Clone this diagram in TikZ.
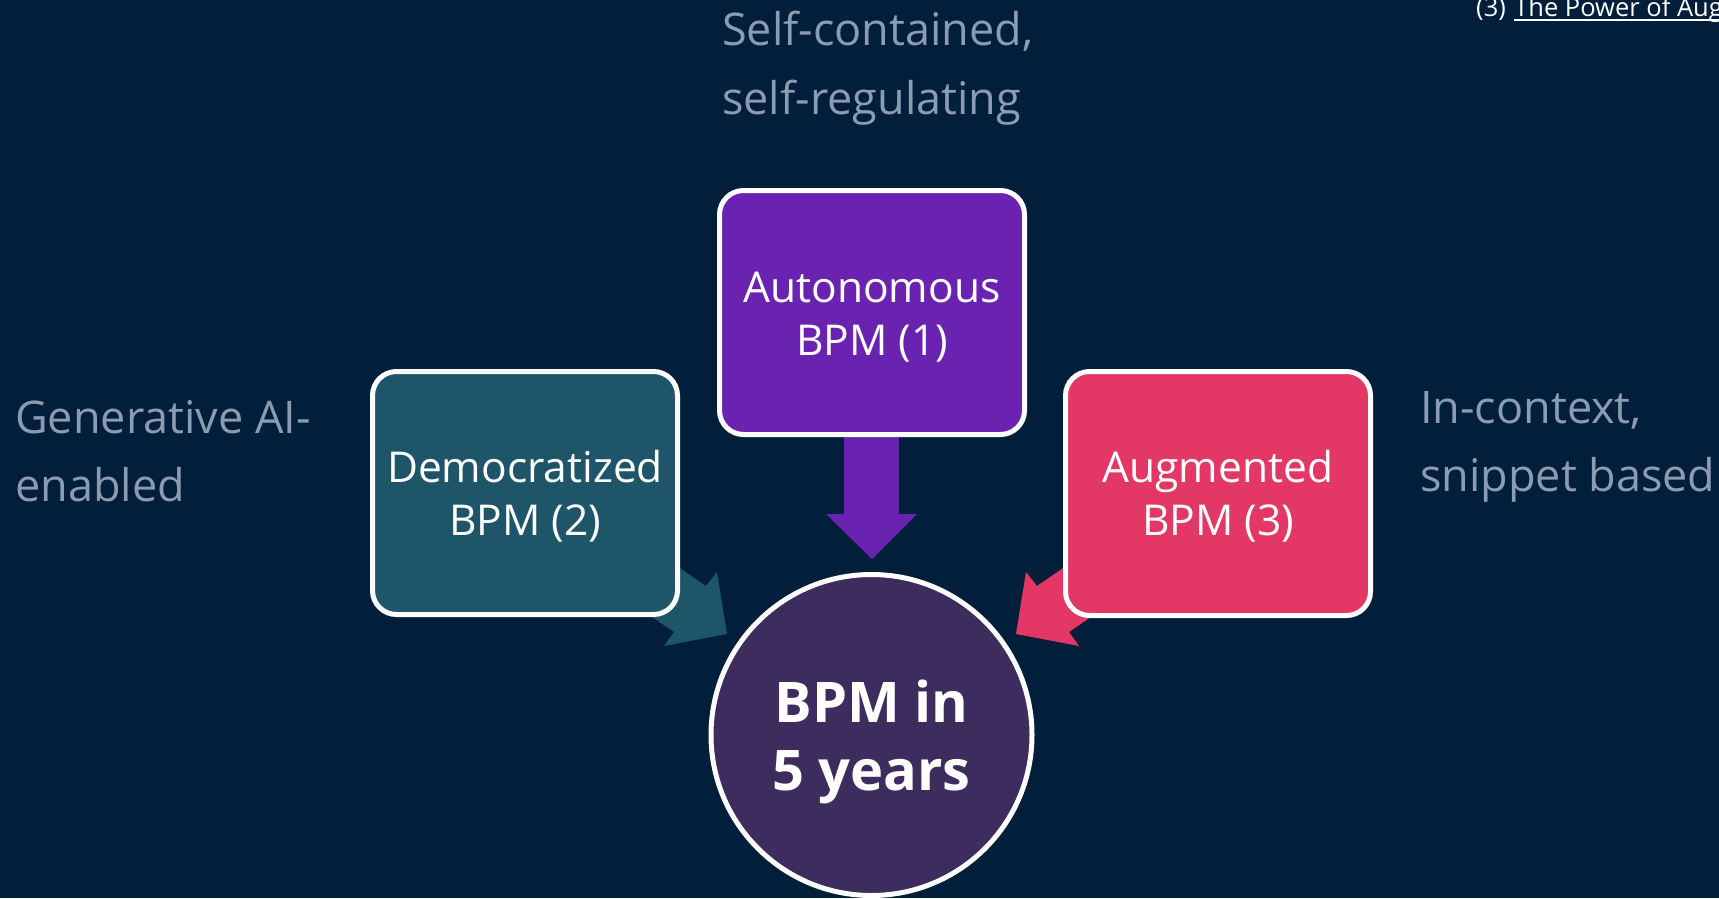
\documentclass[tikz,border=0pt]{standalone}
\usepackage{fontspec}
\setmainfont{Open Sans}
\definecolor{bgC}{HTML}{011E3B}
\definecolor{tealC}{HTML}{1E5568}
\definecolor{purpC}{HTML}{6A22B0}
\definecolor{pinkC}{HTML}{E33865}
\definecolor{circC}{HTML}{3C2D5E}
\definecolor{grayC}{HTML}{8C9CB0}
\begin{document}
\begin{tikzpicture}[x=1pt,y=-1pt,
  box/.style={draw=white,line width=5pt,rounded corners=24pt,inner sep=0pt,
    minimum width=305pt,minimum height=244pt},
  boxtxt/.style={anchor=base,text=white,inner sep=0pt,font=\fontsize{42.5}{52}\selectfont},
  sidetxt/.style={anchor=base west,text=grayC,inner sep=0pt,font=\fontsize{45}{56}\selectfont},
  bigtxt/.style={anchor=base,text=white,inner sep=0pt,font=\fontsize{56}{68}\selectfont\bfseries},
  reftxt/.style={anchor=base west,text=white,inner sep=0pt,font=\fontsize{25.5}{30}\selectfont}]
\fill[bgC] (0,0) rectangle (1719,898);
\clip (0,0) rectangle (1719,898);

% block arrows (behind boxes)
\fill[purpC] (844,420) -- (844,514) -- (826,514) -- (872,559) -- (917,514) -- (899,514) -- (899,420) -- cycle;
\fill[tealC] (623,529) -- (706,586) -- (717,572) -- (727,634) -- (664,646) -- (674,632) -- (592,576) -- cycle;
\fill[pinkC] (1120,529) -- (1037,586) -- (1026,572) -- (1016,634) -- (1079,646) -- (1069,632) -- (1151,576) -- cycle;

% boxes
\node[box,fill=purpC] (auto) at (872,312.5) {};
\node[box,fill=tealC,minimum height=243pt] (demo) at (525,493) {};
\node[box,fill=pinkC] (aug) at (1218,493.5) {};
\node[circle,draw=white,line width=5pt,fill=circC,minimum size=321pt,inner sep=0pt] (bpm) at (871.5,735) {};

% box texts
\node[boxtxt] (autoA) at (872,302) {Autonomous};
\node[boxtxt] (autoB) at (872,355) {BPM (1)};
\node[boxtxt] (demoA) at (525,482) {Democratized};
\node[boxtxt] (demoB) at (525,535) {BPM (2)};
\node[boxtxt] (augA) at (1218,482) {Augmented};
\node[boxtxt] (augB) at (1218,535) {BPM (3)};
\node[bigtxt] (bpmA) at (871.5,722) {BPM in};
\node[bigtxt] (bpmB) at (871.5,790) {5 years};

% side texts
\node[sidetxt] (selfA) at (722,45) {Self-contained,};
\node[sidetxt] (selfB) at (722,114) {self-regulating};
\node[sidetxt] (genA) at (15,433) {Generative AI-};
\node[sidetxt] (genB) at (15,501) {enabled};
\node[sidetxt] (ctxA) at (1420,423) {In-context,};
\node[sidetxt] (ctxB) at (1420,491) {snippet based};

% reference note (cut off at the right edge, as in the reference)
\node[reftxt] (refN) at (1476,16) {(3)};
\node[reftxt,anchor=base west] (refT) at ([xshift=8pt]refN.base east) {The Power of Aug};
\draw[white,line width=2pt] ([yshift=-4pt]refT.base west) -- ([yshift=-4pt]refT.base east);
\end{tikzpicture}
\end{document}
